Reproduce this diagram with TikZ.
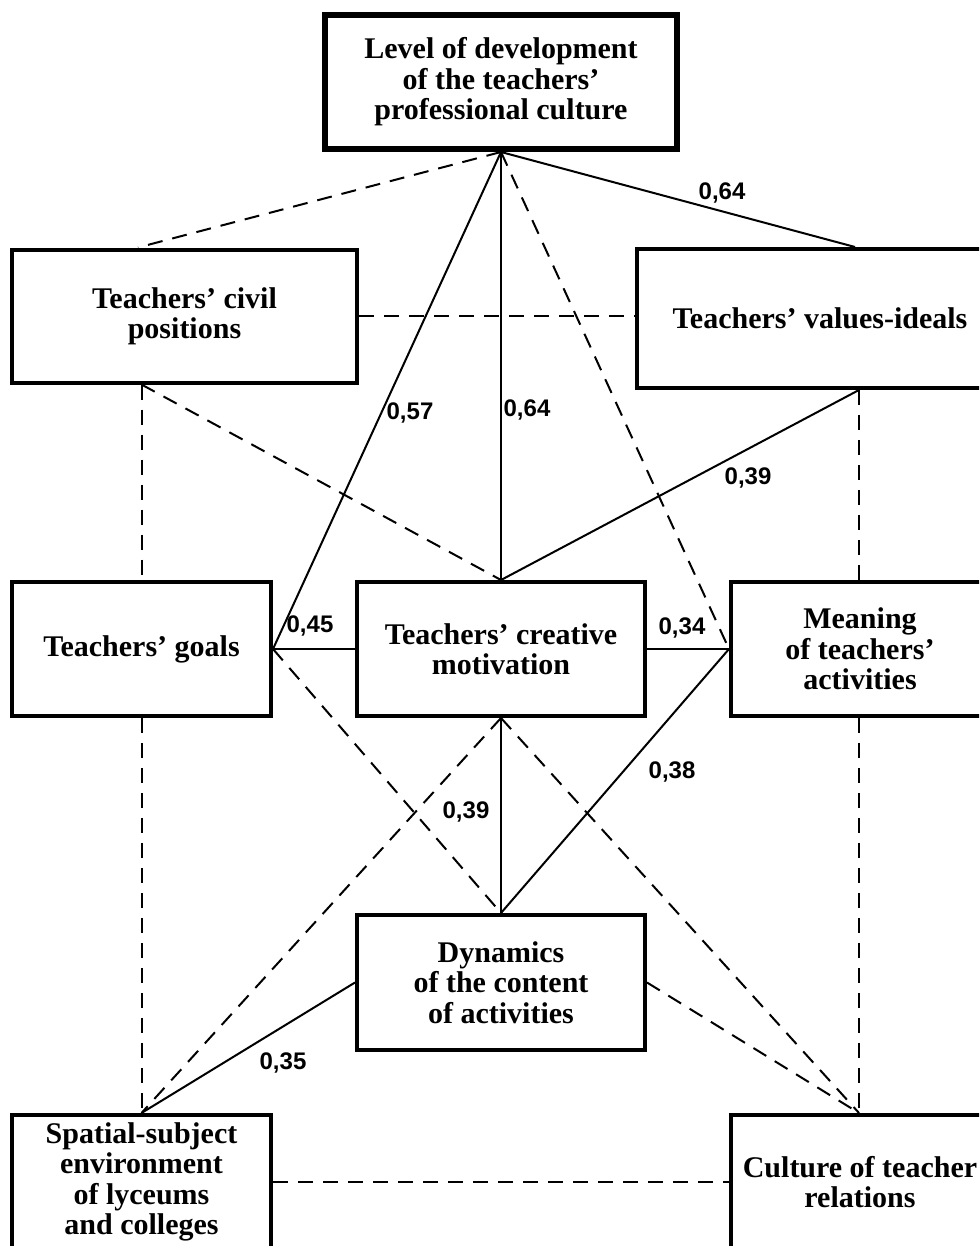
\documentclass[tikz,border=0pt]{standalone}
\usepackage{fontspec}
\setmainfont{Liberation Serif}
\newfontfamily\lblfont{Liberation Sans}
\usetikzlibrary{calc}

\def\pW{979}
\def\pH{1246}

\begin{document}
\begin{tikzpicture}[x=0.5pt, y=-0.5pt,
    box/.style={draw, line width=2pt, fill=white, inner sep=0pt, align=center,
      font=\fontsize{15}{15.2}\selectfont\bfseries},
    lbl/.style={inner sep=0pt, font=\lblfont\fontsize{12}{12}\selectfont\bfseries},
    link/.style={line width=1pt},
    dashlink/.style={line width=1pt, dash pattern=on 7.5pt off 5pt}]
      \clip (0,0) rectangle (\pW,\pH);

      % boxes
      \node[box, line width=3pt, minimum width=176pt, minimum height=67pt] (level) at (501,82)
        {Level of development\\of the teachers'\\professional culture};
      \node[box, minimum width=172.5pt, minimum height=66.5pt] (civil) at (184.5,316)
        {Teachers' civil\\positions};
      \node[box, minimum width=183pt, minimum height=69.5pt] (values) at (820,318.5)
        {Teachers' values-ideals};
      \node[box, minimum width=129.5pt, minimum height=67pt] (goals) at (141.5,649)
        {Teachers' goals};
      \node[box, minimum width=144pt, minimum height=67pt] (motiv) at (501,649)
        {Teachers' creative\\motivation};
      \node[box, minimum width=129pt, minimum height=67pt] (meaning) at (860,649)
        {Meaning\\of teachers'\\activities};
      \node[box, minimum width=144pt, minimum height=67.5pt] (dynam) at (501,982.5)
        {Dynamics\\of the content\\of activities};
      \node[box, minimum width=129.5pt, minimum height=67pt] (spatial) at (141.5,1182)
        {Spatial-subject\\environment\\of lyceums\\and colleges};
      \node[box, minimum width=129pt, minimum height=67pt] (culture) at (860,1182)
        {Culture of teacher\\relations};

      \coordinate (civilTop) at ($(civil.north west)+(128,0)$);
      \coordinate (civilBot) at (civil.south -| goals.north);
      \coordinate (valLeft) at (civil.east -| values.west);
      \coordinate (valTop) at ($(values.north west)+(220,0)$);
      \coordinate (valBot) at ($(values.south west)+(224,0)$);
      \coordinate (meanTop) at (meaning.north -| valBot);
      \coordinate (meanBot) at (meaning.south -| valBot);
      \coordinate (cultTop) at (culture.north -| valBot);

      % solid links
      \draw[link] (level.south) -- (valTop);
      \draw[link] (level.south) -- (goals.east);
      \draw[link] (level.south) -- (motiv.north);
      \draw[link] (valBot) -- (motiv.north);
      \draw[link] (goals.east) -- (motiv.west);
      \draw[link] (motiv.east) -- (meaning.west);
      \draw[link] (motiv.south) -- (dynam.north);
      \draw[link] (meaning.west) -- (dynam.north);
      \draw[link] (dynam.west) -- (spatial.north);

      % dashed links
      \draw[dashlink] (level.south) -- (civilTop);
      \draw[dashlink] (level.south) -- (meaning.west);
      \draw[dashlink] (civil.east) -- (valLeft);
      \draw[dashlink] (civilBot) -- (goals.north);
      \draw[dashlink] (civilBot) -- (motiv.north);
      \draw[dashlink] (valBot) -- (meanTop);
      \draw[dashlink] (goals.east) -- (dynam.north);
      \draw[dashlink] (goals.south) -- (spatial.north);
      \draw[dashlink] (meanBot) -- (cultTop);
      \draw[dashlink] (motiv.south) -- (spatial.north);
      \draw[dashlink] (motiv.south) -- (cultTop);
      \draw[dashlink] (dynam.east) -- (cultTop);
      \draw[dashlink] (spatial.east) -- (culture.west);

      % coefficients
      \node[lbl] (c1) at (722,193) {0,64};
      \node[lbl] (c2) at (410,413) {0,57};
      \node[lbl] (c3) at (527,410) {0,64};
      \node[lbl] (c4) at (748,478) {0,39};
      \node[lbl] (c5) at (310,626) {0,45};
      \node[lbl] (c6) at (682,628) {0,34};
      \node[lbl] (c7) at (466,812) {0,39};
      \node[lbl] (c8) at (672,772) {0,38};
      \node[lbl] (c9) at (283,1063) {0,35};
\end{tikzpicture}
\end{document}
